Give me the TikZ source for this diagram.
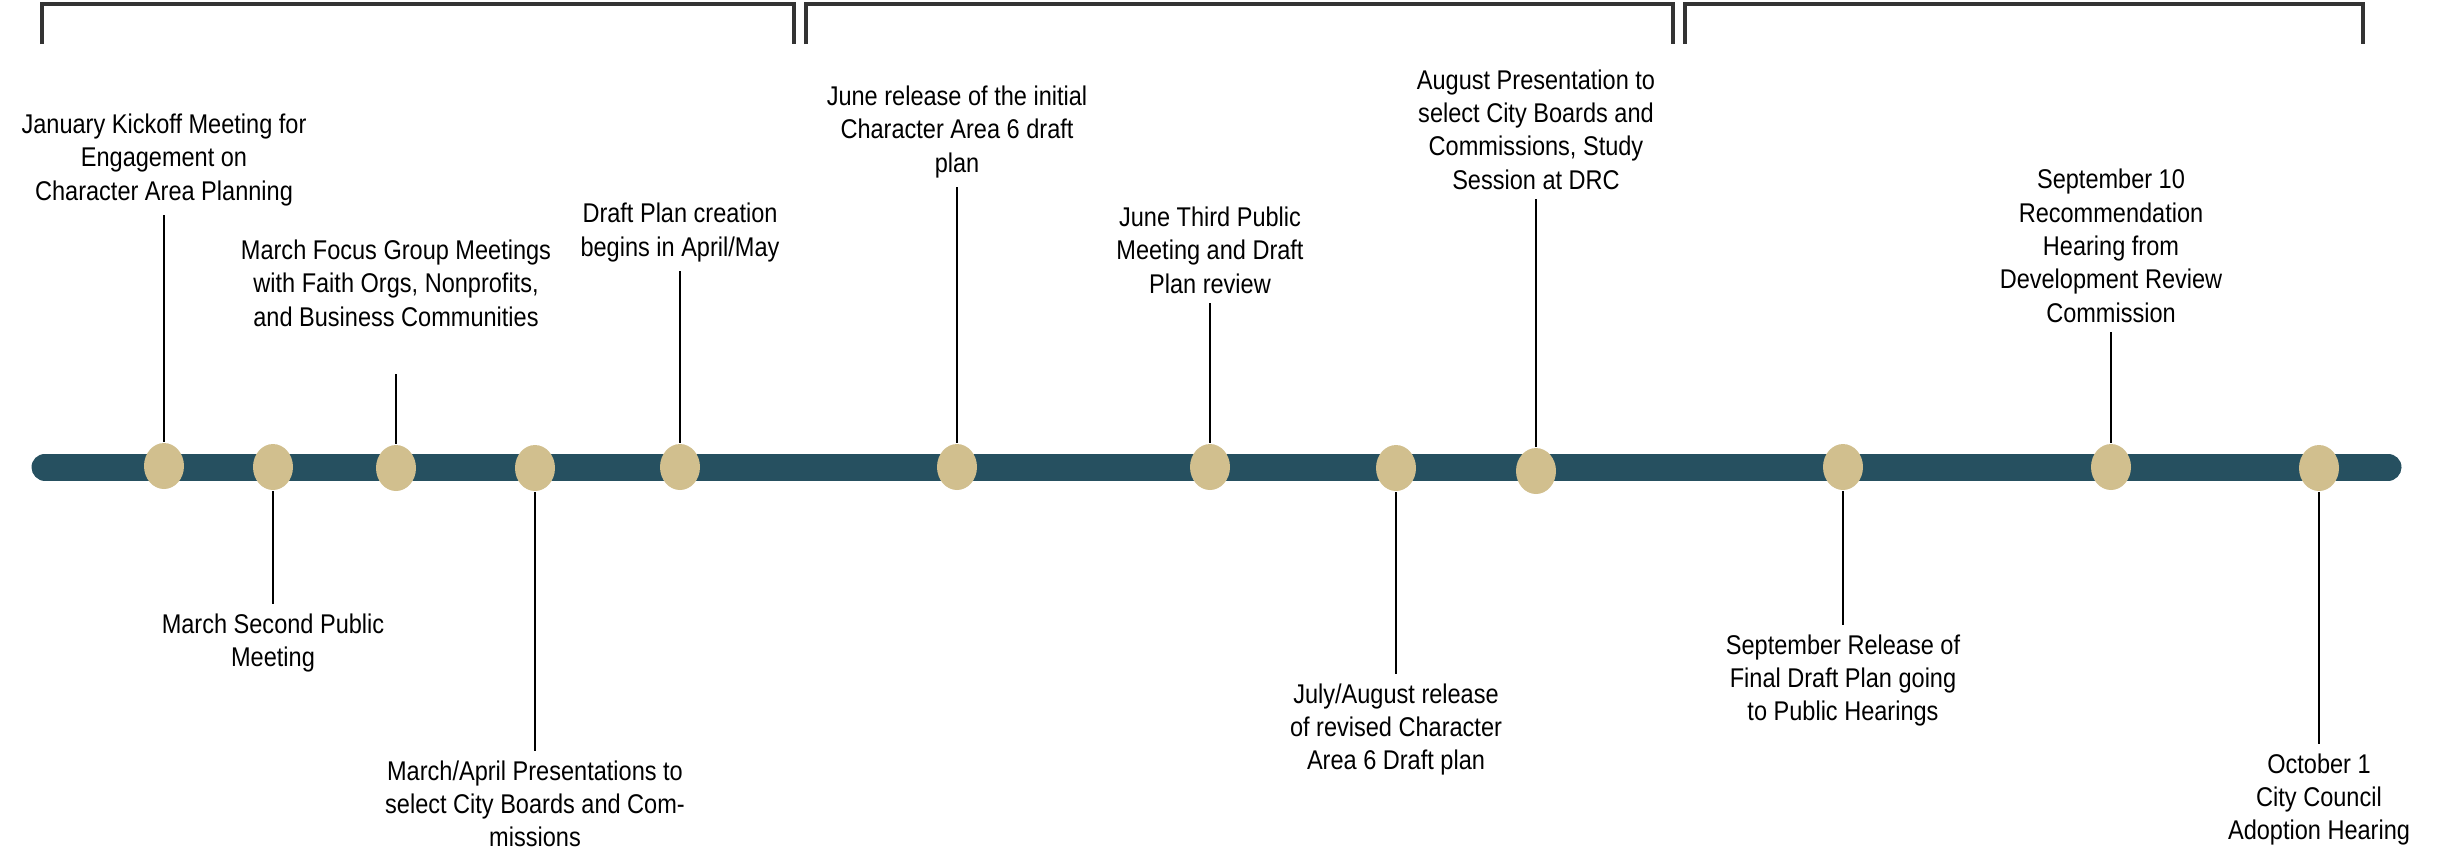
\documentclass[tikz,border=0pt]{standalone}
\usepackage{fontspec}
\setmainfont{Liberation Sans}[FakeStretch=0.87]
\usetikzlibrary{positioning,shapes.geometric}
\definecolor{barblue}{RGB}{38,80,96}
\definecolor{dottan}{RGB}{209,191,142}
\begin{document}
\begin{tikzpicture}[x=.1mm,y=-.1mm,font=\fontsize{7.7pt}{9.5pt}\selectfont,
  dot/.style={ellipse,fill=dottan,minimum width=4mm,minimum height=4.6mm,inner sep=0pt},
  lab/.style={align=center,inner sep=.9mm},
  stem/.style={line width=.55pt},
  phase/.style={line width=.9pt,black!80}]
  \useasboundingbox (0,0) rectangle (2445,858);
  \draw[phase] (42,44) |- (794,4) -- (794,44);
  \draw[phase] (806,44) |- (1673,4) -- (1673,44);
  \draw[phase] (1685,44) |- (2363,4) -- (2363,44);
  \draw[line width=2.7mm,line cap=round,barblue] (45,467) -- (2388,467);
  \foreach \i/\x/\y in {1/164/466,2/273/467,3/396/468,4/535/468,5/680/467,6/957/467,
                        7/1210/467,8/1396/468,9/1536/471,10/1843/467,11/2111/467,12/2319/468}
    \node[dot] (d\i) at (\x,\y) {};
  \node[lab,above=22.7mm of d1] (l1) {January Kickoff Meeting for\\Engagement on\\Character Area Planning};
  \node[lab,below=11.3mm of d2] (l2) {March Second Public\\Meeting};
  \node[lab,outer ysep=3.9mm,above=7mm of d3] (l3) {March Focus Group Meetings\\with Faith Orgs, Nonprofits,\\and Business Communities};
  \node[lab,below=25.9mm of d4] (l4) {March/April Presentations to\\select City Boards and Com-\\missions};
  \node[lab,above=17.2mm of d5] (l5) {Draft Plan creation\\begins in April/May};
  \node[lab,above=25.6mm of d6] (l6) {June release of the initial\\Character Area 6 draft\\plan};
  \node[lab,above=14mm of d7] (l7) {June Third Public\\Meeting and Draft\\Plan review};
  \node[lab,below=18.2mm of d8] (l8) {July/August release\\of revised Character\\Area 6 Draft plan};
  \node[lab,above=24.8mm of d9] (l9) {August Presentation to\\select City Boards and\\Commissions, Study\\Session at DRC};
  \node[lab,below=13.4mm of d10] (l10) {September Release of\\Final Draft Plan going\\to Public Hearings};
  \node[lab,above=11.1mm of d11] (l11) {September 10\\Recommendation\\Hearing from\\Development Review\\Commission};
  \node[lab,below=25.2mm of d12] (l12) {October 1\\City Council\\Adoption Hearing};
  \foreach \i in {1,...,12}
    \draw[stem] (l\i) -- (d\i);
\end{tikzpicture}
\end{document}
